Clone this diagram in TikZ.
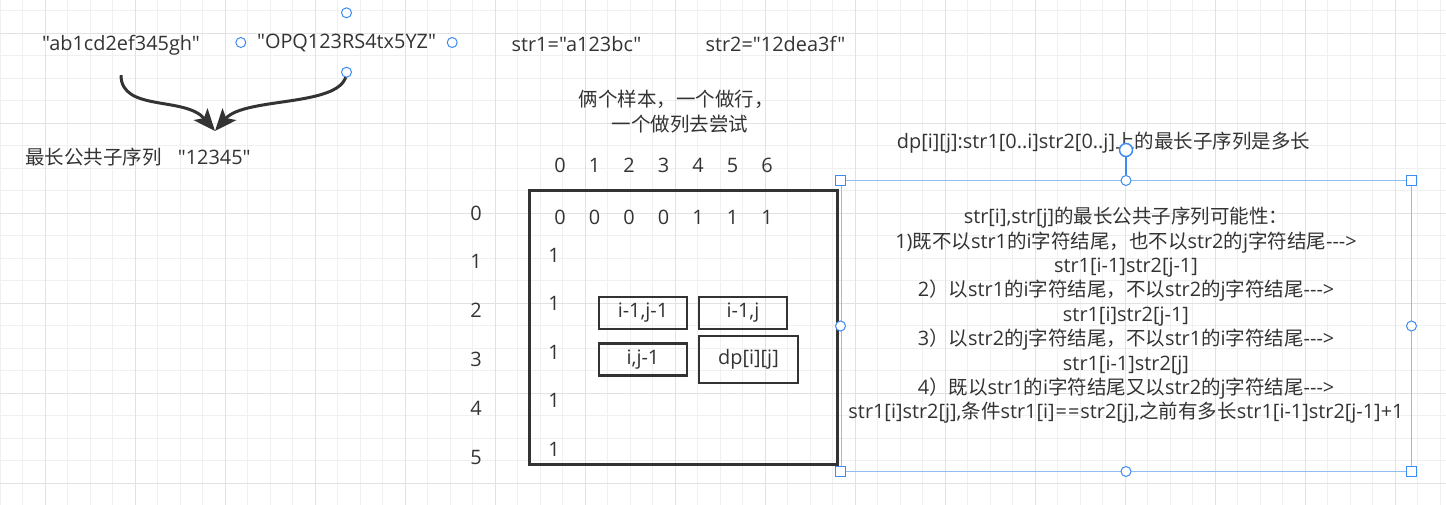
\documentclass[tikz,border=0pt]{standalone}
\usepackage{fontspec}
\setmainfont{Open Sans}[Ligatures=TeXOff, Scale=1.02]
\newfontfamily\zhfont{Noto Sans CJK SC}
\newcommand\zh[1]{{\zhfont #1}}
\usetikzlibrary{arrows.meta, positioning}
\definecolor{ink}{HTML}{333333}
\definecolor{gridminor}{HTML}{F0F0F0}
\definecolor{gridmajor}{HTML}{E2E2E2}
\definecolor{handle}{HTML}{3D8BF0}
\definecolor{selline}{HTML}{90BEF0}

\begin{document}
\begin{tikzpicture}[
    x=1pt, y=-1pt,
    txt/.style={font=\fontsize{19.5}{24.4}\selectfont, text=ink, inner sep=0pt},
    bigbox/.style={draw=ink, line width=3pt, minimum width=308pt, minimum height=273pt},
    cellbox/.style={txt, draw=ink, line width=2.5pt, minimum width=88pt, minimum height=32pt},
    curvarr/.style={-{Stealth[length=22pt, width=18pt, inset=5pt]}, line width=3pt, draw=ink},
    hnd/.style={circle, draw=handle, fill=white, line width=1pt, minimum size=10pt, inner sep=0pt},
    hsq/.style={rectangle, draw=handle, fill=white, line width=1pt, minimum size=10pt, inner sep=0pt},
    selbox/.style={draw=selline, line width=1pt, minimum width=570pt, minimum height=290pt}
]
\useasboundingbox (0,0) rectangle (1446,505);
% grid
\foreach \gx in {0,22.5,...,1446} \draw[gridminor] (\gx,0) -- (\gx,505);
\foreach \gy in {10.5,33,...,505} \draw[gridminor] (0,\gy) -- (1446,\gy);
\foreach \gx in {45,135,...,1446} \draw[gridmajor] (\gx,0) -- (\gx,505);
\foreach \gy in {33,123,...,505} \draw[gridmajor] (0,\gy) -- (1446,\gy);

% the two sample strings
\node[txt, minimum height=60pt] (s1) at (121,45) {"ab1cd2ef345gh"};
\node[txt, minimum width=211pt, minimum height=59pt] (s2) at (346.5,42.5) {"OPQ123RS4tx5YZ"};
\node[txt] (lcs) at (138,157) {\zh{最长公共子序列}\hspace{16pt}"12345"};
\coordinate (meet) at (215,131);
\draw[curvarr] (s1.south) .. controls (121,112) and (185,96) .. (meet);
\draw[curvarr] (s2.south) .. controls (346,108) and (245,96) .. (meet);
\node[hnd] (s2w) at (s2.west) {};
\node[hnd] (s2e) at (s2.east) {};
\node[hnd] (s2n) at (s2.north) {};
\node[hnd] (s2s) at (s2.south) {};

% example strings
\node[txt] (str1) at (576.5,44) {str1="a123bc"};
\node[txt] (str2) at (775.5,44) {str2="12dea3f"};
\node[txt, align=center, font=\zhfont\fontsize{19.5}{25}\selectfont] (hint) at (676,112)
    {俩个样本，一个做行，\\\hspace{8pt}一个做列去尝试};

% dp table
\node[bigbox] (table) at (683,327.5) {};
\foreach \v [count=\i from 0] in {0,0,0,0,1,1,1} {
    \node[txt] (col\i) at (560+34.5*\i,165) {\i};
    \node[txt] (top\i) at (560+34.5*\i,217) {\v};
}
\foreach \i in {0,...,5}
    \node[txt] (row\i) at (476,213+48.8*\i) {\i};
\foreach \i in {1,...,5}
    \node[txt] (one\i) at (554,255+48.5*\i-48.5) {1};
\node[cellbox] (ul) at (643,313) {i-1,j-1};
\node[cellbox] (ur) at (743,313) {i-1,j};
\node[cellbox] (ll) at (643,359.5) {i,j-1};
\node[cellbox, minimum width=99pt, minimum height=47pt] (dp) at (748.5,359.5) {dp[i][j]};

% meaning of dp and the four cases
\node[txt] (title) at (1103.5,143) {dp[i][j]:str1[0..i]str2[0..j]\zh{上的最长子序列是多长}};
\node[selbox] (note) at (1126,326) {};
\node[txt, align=center] (notetxt) at (1126,315.5) {%
    str[i],str[j]\zh{的最长公共子序列可能性：}\\
    1)\zh{既不以}str1\zh{的}i\zh{字符结尾，也不以}str2\zh{的}j\zh{字符结尾}--->\\
    str1[i-1]str2[j-1]\\
    2\zh{）以}str1\zh{的}i\zh{字符结尾，不以}str2\zh{的}j\zh{字符结尾}--->\\
    str1[i]str2[j-1]\\
    3\zh{）以}str2\zh{的}j\zh{字符结尾，不以}str1\zh{的}i\zh{字符结尾}--->\\
    str1[i-1]str2[j]\\
    4\zh{）既以}str1\zh{的}i\zh{字符结尾又以}str2\zh{的}j\zh{字符结尾}--->\\
    str1[i]str2[j],\zh{条件}str1[i]\hspace{1pt}=\hspace{1pt}=\hspace{1pt}str2[j],\zh{之前有多长}str1[i-1]str2[j-1]+1};
\node[hsq] (nw) at (note.north west) {};
\node[hsq] (ne) at (note.north east) {};
\node[hsq] (sw) at (note.south west) {};
\node[hsq] (se) at (note.south east) {};
\node[hnd] (nn) at (note.north) {};
\node[hnd] (ns) at (note.south) {};
\node[hnd] (nwest) at (note.west) {};
\node[hnd] (neast) at (note.east) {};
\node[hnd, minimum size=13pt, line width=1.5pt] (rot) at (1126,150) {};
\draw[handle, line width=1.5pt] (rot) -- (nn);
\end{tikzpicture}
\end{document}
